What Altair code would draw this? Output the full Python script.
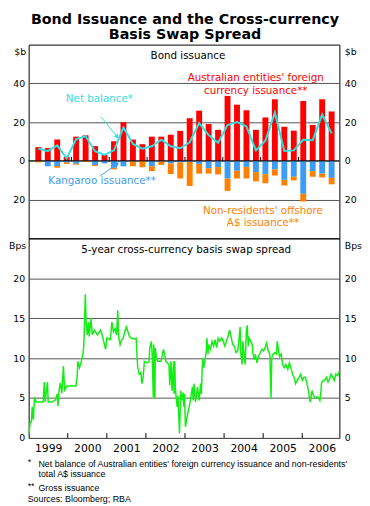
import altair as alt
import pandas as pd

FONT = "DejaVu Sans"
FOOT_FONT = "Liberation Sans"
RED = "#ff0000"
BLUE = "#3d9cf5"
ORANGE = "#ff8000"
CYAN = "#33dddd"
GREEN = "#11ee11"
GRID = "#555555"

# ---------------- data ----------------
years = [1999, 2000, 2001, 2002, 2003, 2004, 2005, 2006]
year_ticks = [2000, 2001, 2002, 2003, 2004, 2005, 2006]
year_label_pos = [1999.5, 2000.5, 2001.5, 2002.5, 2003.5, 2004.5, 2005.5, 2006.5]
quarters = [1, 2, 3, 4]

# quarterly, $b (1999 Q1 .. 2006 Q4)
aus_foreign = [7.1, 6.6, 11.0, 2.1, 12.5, 13.2, 7.6, 3.0,
               10.1, 20.0, 11.0, 8.6, 12.5, 12.5, 13.5, 15.5,
               22.0, 25.9, 19.0, 16.0, 33.5, 29.0, 26.1, 16.0,
               22.4, 31.8, 17.6, 15.6, 30.9, 18.5, 31.8, 25.5]
kangaroo = [0.0, 2.8, 2.6, 0.9, 1.5, 0.0, 2.2, 1.3,
            3.6, 2.8, 0.3, 0.0, 2.8, 0.3, 1.3, 0.8,
            0.5, 1.6, 3.8, 3.2, 9.2, 5.1, 3.1, 5.8,
            6.9, 4.5, 9.8, 8.2, 17.0, 5.3, 6.6, 8.8]
nonres_offshore = [0.8, 0.0, 0.9, 0.7, 0.5, 0.6, 0.5, 0.0,
                   0.8, 0.0, 2.5, 3.3, 2.5, 1.8, 5.5, 8.3,
                   12.5, 5.0, 2.8, 3.8, 6.3, 4.0, 6.0, 4.8,
                   4.7, 3.1, 2.9, 1.9, 4.0, 2.9, 2.0, 3.3]
net_balance = [6.4, 5.0, 8.0, 1.3, 11.3, 12.7, 5.0, 3.1,
               5.4, 17.2, 8.7, 6.3, 7.5, 10.9, 7.5, 6.5,
               9.6, 19.5, 13.3, 9.4, 18.5, 20.0, 17.8, 5.4,
               10.4, 24.9, 5.1, 5.4, 10.9, 10.7, 23.9, 14.2]

# 5-year cross-currency basis swap spread (decimal year, bps)
swap_points = [
    (1999.01, 0.6), (1999.04, 2.0), (1999.07, 2.0), (1999.09, 3.9), (1999.12, 2.3),
    (1999.15, 5.1), (1999.19, 4.5), (1999.27, 4.5), (1999.37, 4.5), (1999.40, 7.0),
    (1999.42, 4.5), (1999.48, 7.0), (1999.50, 4.5), (1999.60, 4.5), (1999.69, 4.8),
    (1999.73, 5.5), (1999.75, 4.0), (1999.78, 6.0), (1999.81, 6.9), (1999.85, 5.6),
    (1999.89, 9.0), (1999.92, 6.0), (1999.98, 6.5), (2000.10, 6.5), (2000.21, 6.5),
    (2000.24, 7.6), (2000.26, 9.6), (2000.30, 8.8), (2000.35, 9.6), (2000.39, 10.5),
    (2000.41, 11.5), (2000.43, 14.5), (2000.45, 18.0), (2000.47, 14.5), (2000.50, 12.9),
    (2000.53, 14.5), (2000.55, 12.7), (2000.59, 15.0), (2000.63, 12.9), (2000.68, 13.5),
    (2000.76, 12.9), (2000.84, 13.5), (2000.88, 12.9), (2000.92, 12.1), (2000.97, 11.1),
    (2001.00, 12.5), (2001.09, 12.3), (2001.13, 14.5), (2001.17, 13.3), (2001.21, 13.7),
    (2001.25, 12.9), (2001.28, 16.0), (2001.30, 12.7), (2001.34, 11.7), (2001.38, 12.3),
    (2001.42, 12.5), (2001.46, 13.3), (2001.50, 13.9), (2001.54, 13.3), (2001.58, 12.7),
    (2001.62, 12.5), (2001.71, 12.4), (2001.75, 12.5), (2001.77, 10.5), (2001.79, 8.8),
    (2001.83, 8.0), (2001.87, 8.2), (2001.90, 6.8), (2001.93, 7.6), (2001.96, 9.6),
    (2002.04, 9.4), (2002.08, 9.6), (2002.10, 11.3), (2002.14, 12.1), (2002.16, 10.5),
    (2002.19, 5.1), (2002.20, 11.7), (2002.23, 4.9), (2002.24, 11.3), (2002.27, 10.0),
    (2002.30, 9.6), (2002.39, 9.6), (2002.45, 11.1), (2002.48, 10.5), (2002.51, 9.6),
    (2002.59, 9.2), (2002.61, 6.6), (2002.64, 9.6), (2002.67, 5.9), (2002.71, 9.6),
    (2002.72, 5.5), (2002.74, 9.6), (2002.75, 6.4), (2002.78, 4.7), (2002.80, 3.9),
    (2002.82, 5.3), (2002.86, 0.6), (2002.89, 5.9), (2002.92, 4.7), (2002.95, 5.7),
    (2002.97, 3.9), (2002.99, 5.5), (2003.01, 1.4), (2003.07, 3.1), (2003.11, 3.9),
    (2003.15, 5.1), (2003.19, 6.4), (2003.21, 4.7), (2003.23, 6.8), (2003.27, 4.5),
    (2003.32, 6.4), (2003.36, 4.7), (2003.40, 6.8), (2003.42, 5.5), (2003.44, 8.8),
    (2003.46, 10.0), (2003.48, 8.8), (2003.52, 10.0), (2003.55, 11.1), (2003.56, 12.5),
    (2003.59, 10.5), (2003.60, 11.7), (2003.65, 11.1), (2003.69, 12.1), (2003.73, 11.5),
    (2003.77, 12.3), (2003.81, 11.3), (2003.85, 12.5), (2003.89, 12.1), (2003.94, 12.5),
    (2003.98, 12.1), (2004.02, 11.5), (2004.06, 12.1), (2004.10, 12.7), (2004.14, 13.5),
    (2004.18, 12.7), (2004.22, 11.7), (2004.26, 11.5), (2004.31, 10.7), (2004.35, 10.9),
    (2004.37, 11.7), (2004.41, 13.9), (2004.43, 10.5), (2004.46, 9.2), (2004.48, 12.1),
    (2004.51, 10.5), (2004.54, 9.2), (2004.57, 13.3), (2004.59, 14.1), (2004.62, 11.5),
    (2004.64, 12.5), (2004.68, 12.1), (2004.72, 11.7), (2004.74, 10.5), (2004.78, 9.8),
    (2004.80, 10.5), (2004.84, 9.4), (2004.88, 10.2), (2004.93, 10.7), (2004.97, 11.1),
    (2005.01, 10.9), (2005.05, 11.3), (2005.09, 11.9), (2005.13, 10.9), (2005.17, 10.5),
    (2005.20, 4.9), (2005.22, 10.0), (2005.25, 10.5), (2005.30, 10.7), (2005.34, 10.5),
    (2005.36, 12.1), (2005.40, 10.7), (2005.42, 10.2), (2005.46, 10.5), (2005.50, 9.2),
    (2005.54, 8.8), (2005.58, 9.2), (2005.63, 8.6), (2005.67, 9.4), (2005.71, 8.8),
    (2005.75, 8.0), (2005.79, 7.6), (2005.83, 6.8), (2005.87, 7.2), (2005.92, 7.6),
    (2005.96, 8.0), (2006.00, 7.2), (2006.04, 7.6), (2006.08, 7.6), (2006.12, 6.8),
    (2006.16, 5.9), (2006.20, 4.5), (2006.25, 5.9), (2006.29, 5.3), (2006.33, 5.1),
    (2006.37, 5.1), (2006.41, 5.1), (2006.45, 4.7), (2006.48, 5.9), (2006.49, 6.8),
    (2006.53, 7.2), (2006.57, 7.2), (2006.62, 7.6), (2006.66, 7.0), (2006.70, 7.4),
    (2006.74, 8.0), (2006.78, 7.6), (2006.82, 7.2), (2006.86, 8.0), (2006.91, 7.8),
    (2006.95, 8.4),
]

# annotation text (label, decimal year, value, colour)
top_texts = [
    ("Bond issuance", 2003.08, 54.2, "black"),
    ("Australian entities' foreign", 2004.87, 42.7, RED),
    ("currency issuance**", 2004.87, 35.8, RED),
    ("Net balance*", 2000.74, 32.1, CYAN),
    ("Kangaroo issuance**", 2000.81, -10.5, BLUE),
    ("Non-residents' offshore", 2005.06, -25.8, ORANGE),
    ("A$ issuance**", 2005.06, -32.0, ORANGE),
]
bottom_texts = [("5-year cross-currency basis swap spread", 2003.03, 23.5, "black")]
arrows = [
    # x, y, x2, y2, colour, head angle
    (2000.78, 22.8, 2001.21, 12.4, CYAN, 140),
    (2000.76, -7.8, 2001.21, -1.5, BLUE, 55),
]
footnotes = [
    ("*", -1, 227.5),
    ("Net balance of Australian entities' foreign currency issuance and non-residents'", 10, 229.5),
    ("total A$ issuance", 10, 239.5),
    ("**", -1, 252),
    ("Gross issuance", 10, 254),
    ("Sources: Bloomberg; RBA", -1, 265.5),
]

# ---------------- frames ----------------
qt = [y + (q - 0.5) / 4 for y in years for q in quarters]
rows = []
for t, a, k, o in zip(qt, aus_foreign, kangaroo, nonres_offshore):
    rows.append({"t": t, "lo": 0.0, "hi": a, "c": RED})
    rows.append({"t": t, "lo": -k, "hi": 0.0, "c": BLUE})
    rows.append({"t": t, "lo": -(k + o), "hi": -k, "c": ORANGE})
bars_df = pd.DataFrame(rows)
net_df = pd.DataFrame({"t": qt, "v": net_balance})
swap_df = pd.DataFrame(swap_points, columns=["t", "v"])
tick_top_df = pd.DataFrame({"t": year_ticks, "a": 0.0, "b": 2.0})
tick_bot_df = pd.DataFrame({"t": year_ticks, "a": 0.0, "b": 0.6})
ttext_df = pd.DataFrame(top_texts, columns=["label", "t", "v", "c"])
btext_df = pd.DataFrame(bottom_texts, columns=["label", "t", "v", "c"])
one_row = pd.DataFrame({"k": [0]})

W = 316
XS = alt.Scale(domain=[1999.0, 2006.95], nice=False, zero=False)
YT = alt.Scale(domain=[-40, 60], nice=False, zero=False)
YB = alt.Scale(domain=[0, 25], nice=False, zero=False)


def yaxis(values, title, orient, grid):
    left = orient == "left"
    return alt.Axis(
        orient=orient, values=values, labelExpr="abs(datum.value)",
        title=title, titleAngle=0, titleAlign="right" if left else "left",
        titleBaseline="middle", titleX=-3 if left else 5, titleY=7,
        domain=False, ticks=False, grid=grid, gridColor=GRID, gridWidth=1,
        labelFont=FONT, labelFontSize=9.5, labelColor="black",
        labelPadding=4 if left else 5,
        titleFont=FONT, titleFontSize=9.5, titleFontWeight="normal", titleColor="black",
    )


xnone = alt.X("t:Q", scale=XS, axis=None)
xaxis = alt.Axis(
    values=year_label_pos, labelExpr="format(floor(datum.value), 'd')",
    domain=False, ticks=False, grid=False, title=None,
    labelFont=FONT, labelFontSize=11, labelColor="black", labelPadding=5,
)
xbot = alt.X("t:Q", scale=XS, axis=xaxis)

# ---------------- top panel ----------------
bars = alt.Chart(bars_df).mark_bar(size=6).encode(
    x=xnone,
    y=alt.Y("hi:Q", scale=YT, axis=yaxis([-20, 0, 20, 40], "$b", "left", True)),
    y2="lo:Q",
    color=alt.Color("c:N", scale=None),
)
net_line = alt.Chart(net_df).mark_line(color=CYAN, strokeWidth=2).encode(
    x=xnone,
    y=alt.Y("v:Q", scale=YT, axis=yaxis([-20, 0, 20, 40], "$b", "right", False)),
)
zero_rule = alt.Chart(one_row).mark_rule(color="black", strokeWidth=1).encode(
    y=alt.datum(0, scale=YT, axis=None)
)
top_ticks = alt.Chart(tick_top_df).mark_rule(color="black").encode(
    x=xnone, y=alt.Y("a:Q", scale=YT, axis=None), y2="b:Q"
)
top_text = alt.Chart(ttext_df).mark_text(font=FONT, fontSize=10.5, baseline="middle").encode(
    x=xnone, y=alt.Y("v:Q", scale=YT, axis=None), text="label:N",
    color=alt.Color("c:N", scale=None),
)
arrow_layers = []
for (x1, y1, x2, y2, col, ang) in arrows:
    adf = pd.DataFrame({"t": [x1], "v": [y1], "t2": [x2], "v2": [y2]})
    arrow_layers.append(alt.Chart(adf).mark_rule(color=col, strokeWidth=1).encode(
        x=xnone, y=alt.Y("v:Q", scale=YT, axis=None), x2="t2:Q", y2="v2:Q"))
    arrow_layers.append(alt.Chart(adf).mark_point(
        shape="triangle-up", filled=True, size=28, angle=ang, color=col, opacity=1
    ).encode(x=alt.X("t2:Q", scale=XS, axis=None), y=alt.Y("v2:Q", scale=YT, axis=None)))

top = alt.layer(bars, net_line, zero_rule, top_ticks, top_text, *arrow_layers).resolve_scale(
    y="independent"
).properties(width=W, height=197)

# ---------------- bottom panel ----------------
bot_ticks = alt.Chart(tick_bot_df).mark_rule(color="black").encode(
    x=xbot,
    y=alt.Y("a:Q", scale=YB, axis=yaxis([0, 5, 10, 15, 20], "Bps", "left", True)),
    y2="b:Q",
)
swap_line = alt.Chart(swap_df).mark_line(color=GREEN, strokeWidth=1.5).encode(
    x=xbot,
    y=alt.Y("v:Q", scale=YB, axis=yaxis([0, 5, 10, 15, 20], "Bps", "right", False)),
)
bot_text = alt.Chart(btext_df).mark_text(font=FONT, fontSize=10.5, baseline="middle").encode(
    x=xbot, y=alt.Y("v:Q", scale=YB, axis=None), text="label:N",
    color=alt.Color("c:N", scale=None),
)
foot_layers = []
for (txt, fx, fy) in footnotes:
    foot_layers.append(alt.Chart(one_row).mark_text(
        text=txt, font=FOOT_FONT, fontSize=9, align="left", baseline="middle", color="black"
    ).encode(x=alt.value(fx), y=alt.value(fy)))

bottom = alt.layer(bot_ticks, swap_line, bot_text, *foot_layers).resolve_scale(
    y="independent"
).properties(width=W, height=203)

chart = alt.vconcat(top, bottom, spacing=0, bounds="flush").properties(
    title=alt.TitleParams(
        ["Bond Issuance and the Cross-currency", "Basis Swap Spread"],
        font=FONT, fontSize=14.5, fontWeight="bold", anchor="middle",
        lineHeight=15, offset=2, color="black",
    ),
    padding=0,
).configure_view(stroke="black", strokeWidth=1)

chart.save("out.html", embed_options={"renderer": "svg", "actions": False})
